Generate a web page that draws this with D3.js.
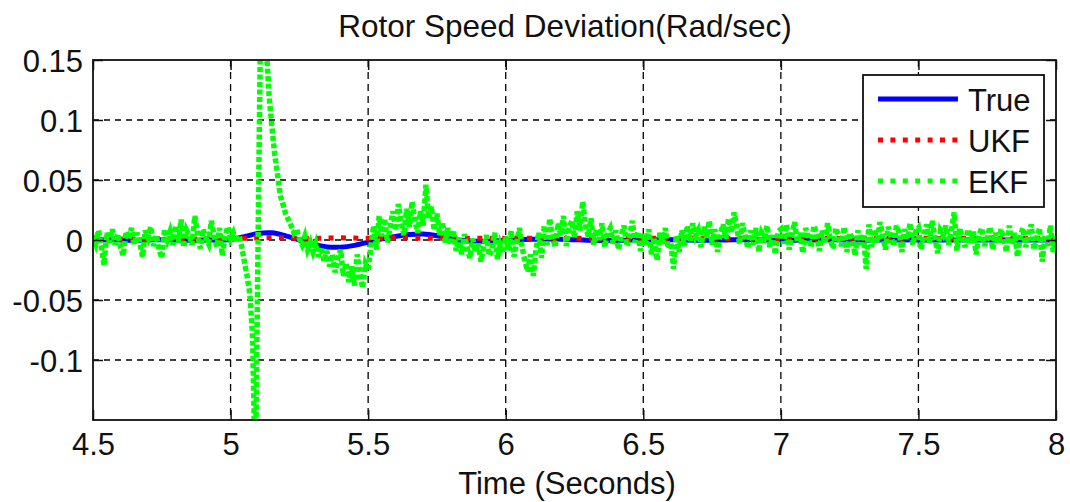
<!DOCTYPE html>
<html><head><meta charset="utf-8">
<script src="https://cdn.jsdelivr.net/npm/d3@7"></script>
<style>
body{margin:0;background:#fff}
svg{display:block}
text{font-family:"Liberation Sans",Arial,sans-serif;fill:#111}
</style>
</head><body>
<svg id="chart" width="1070" height="502"></svg>
<script>
const chartTitle = "Rotor Speed Deviation(Rad/sec)";
const xAxisLabel = "Time (Seconds)";
const xTickValues = [4.5, 5, 5.5, 6, 6.5, 7, 7.5, 8];
const yTickValues = [-0.1, -0.05, 0, 0.05, 0.1, 0.15];
const seriesNames = ["True", "UKF", "EKF"];
const seriesColors = ["#0000ff", "#ff0000", "#00ff00"];

// True and UKF sampled every 0.05 s from 4.5 s
const trueStart = 4.5, trueStep = 0.05;
const trueValues = [
 0, 0.0003, 0, -0.0003, 0, 0.0003, 0, -0.0003, 0, 0,
 0.0005, 0.0028, 0.0055, 0.006, 0.0035, 0, -0.0035, -0.0058, -0.006, -0.0045,
 -0.0018, 0.001, 0.003, 0.0045, 0.005, 0.0035, 0.001, -0.0006, -0.001, -0.0008,
 -0.0003, 0.0002, 0.0006, 0.0008, 0.0006, 0.0002, -0.0002, -0.0004, -0.0003, 0,
 0.0002, 0.0003, 0.0002, 0, -0.0002, -0.0002, 0, 0.0002, 0.0002, 0,
 -0.0001, -0.0002, 0, 0.0001, 0.0002, 0, -0.0001, -0.0001, 0, 0.0001,
 0.0001, 0, -0.0001, 0, 0.0001, 0, 0, -0.0001, 0, 0, 0
];
const ukfStart = 4.5, ukfStep = 0.05;
const ukfValues = [
 0.0008, 0.001, 0.0008, 0.0006, 0.0008, 0.001, 0.0009, 0.0007, 0.0009, 0.001,
 0.0012, 0.0015, 0.0018, 0.002, 0.0018, 0.0015, 0.0014, 0.0016, 0.0018, 0.0016,
 0.0015, 0.0016, 0.0018, 0.0017, 0.0015, 0.0014, 0.0013, 0.0014, 0.0015, 0.0014,
 0.0013, 0.0014, 0.0015, 0.0014, 0.0013, 0.0014, 0.0015, 0.0014, 0.0013, 0.0014,
 0.0015, 0.0014, 0.0013, 0.0014, 0.0015, 0.0014, 0.0013, 0.0014, 0.0015, 0.0014,
 0.0013, 0.0014, 0.0015, 0.0014, 0.0013, 0.0014, 0.0015, 0.0014, 0.0013, 0.0014,
 0.0015, 0.0014, 0.0013, 0.0014, 0.0015, 0.0014, 0.0013, 0.0014, 0.0015, 0.0014, 0.0014
];
// EKF sampled every 0.01 s from 4.5 s
const ekfStart = 4.5, ekfStep = 0.01;
const ekfValues = [
 0.004, -0.003, 0.008, -0.005, -0.021, 0.006, -0.002, 0.009, -0.004, 0.005,
 -0.006, -0.013, 0.007, 0.001, 0.010, -0.004, 0.006, -0.002, -0.014, 0.008,
 0.002, 0.011, -0.005, 0.004, -0.008, -0.015, 0.009, 0.000, 0.007, -0.004,
 0.012, -0.002, 0.017, -0.006, 0.008, 0.003, -0.004, 0.020, 0.005, -0.007,
 0.009, 0.002, -0.003, 0.016, 0.004, -0.006, 0.010, -0.013, 0.003, 0.011,
 0.001, 0.006, -0.002, 0.004, -0.005, -0.018, -0.030, -0.045, -0.080, -0.200,
 0.000, 0.200, 0.210, 0.160, 0.120, 0.095, 0.072, 0.056, 0.038, 0.030,
 0.022, 0.017, 0.012, 0.006, 0.009, 0.001, -0.004, 0.003, -0.008, -0.002,
 -0.010, -0.003, -0.014, -0.006, -0.018, -0.009, -0.022, -0.012, -0.027, -0.015,
 -0.008, -0.030, -0.019, -0.035, -0.022, -0.038, -0.012, -0.028, -0.040, -0.020,
 -0.025, -0.005, 0.012, -0.008, 0.020, 0.003, 0.018, -0.002, 0.010, 0.024,
 0.008, 0.030, 0.014, 0.004, 0.026, 0.011, 0.032, 0.016, 0.006, 0.024,
 0.012, 0.046, 0.018, 0.028, 0.008, 0.022, 0.004, 0.015, -0.002, 0.010,
 -0.004, 0.008, -0.009, 0.002, -0.012, 0.005, -0.007, -0.015, 0.001, -0.010,
 -0.003, -0.018, -0.006, 0.004, -0.013, -0.008, 0.006, -0.016, -0.004, -0.011,
 0.003, -0.009, 0.008, -0.014, -0.002, 0.010, -0.006, -0.018, -0.026, -0.012,
 -0.030, -0.008, 0.006, -0.015, 0.012, -0.004, 0.018, 0.002, -0.006, 0.014,
 0.004, 0.020, -0.005, 0.010, 0.016, 0.002, 0.024, 0.008, 0.032, 0.012,
 0.003, 0.018, -0.004, 0.009, 0.000, 0.014, -0.006, 0.006, 0.010, -0.003,
 0.008, -0.008, 0.004, 0.012, -0.005, 0.002, 0.016, -0.002, 0.007, -0.009,
 0.005, -0.004, 0.009, -0.012, 0.002, -0.017, 0.006, -0.003, 0.010, -0.007,
 -0.002, -0.024, 0.004, -0.010, 0.008, -0.005, 0.012, -0.001, 0.014, 0.003,
 0.008, -0.006, 0.011, 0.002, 0.016, -0.004, 0.009, -0.010, 0.005, 0.013,
 0.001, 0.018, 0.006, 0.023, 0.010, -0.003, 0.014, 0.004, -0.007, 0.008,
 -0.004, 0.010, -0.010, 0.006, 0.002, 0.012, -0.006, 0.004, -0.012, 0.007,
 0.009, -0.003, 0.013, -0.008, 0.004, 0.015, -0.002, 0.006, -0.011, 0.010,
 0.002, -0.006, 0.012, 0.004, -0.009, 0.008, -0.003, 0.014, 0.000, -0.007,
 0.010, 0.003, -0.005, 0.011, -0.010, 0.006, 0.001, -0.013, 0.008, -0.004,
 0.005, -0.024, 0.013, -0.006, 0.009, -0.002, 0.015, 0.004, -0.008, 0.011,
 0.003, -0.005, 0.012, 0.006, -0.010, 0.009, 0.001, 0.014, -0.004, 0.007,
 0.010, -0.008, 0.005, 0.013, -0.003, 0.016, 0.002, -0.011, 0.008, 0.004,
 0.012, -0.004, 0.008, 0.023, -0.009, 0.010, 0.001, -0.006, 0.009, -0.002,
 0.007, -0.012, 0.004, 0.010, -0.005, 0.002, 0.011, -0.008, 0.006, -0.003,
 0.009, 0.001, -0.010, 0.012, -0.004, 0.006, -0.014, 0.003, 0.010, -0.006,
 0.005, 0.013, -0.008, 0.002, 0.010, -0.018, 0.004, -0.005, 0.012, -0.010,
 0.003
];

const svg = d3.select("#chart");
const plot = {left: 93, right: 1056, top: 60, bottom: 420};
const x = d3.scaleLinear().domain([4.5, 8]).range([plot.left, plot.right]);
const y = d3.scaleLinear().domain([-0.15, 0.15]).range([plot.bottom, plot.top]);
const fmt = d => String(d);

const toPoints = (start, step, vals) => vals.map((v, i) => [start + i * step, v]);
const trueData = toPoints(trueStart, trueStep, trueValues);
const ukfData = toPoints(ukfStart, ukfStep, ukfValues);
const ekfData = toPoints(ekfStart, ekfStep, ekfValues);

svg.append("defs").append("clipPath").attr("id", "clip")
  .append("rect").attr("x", plot.left).attr("y", plot.top)
  .attr("width", plot.right - plot.left).attr("height", plot.bottom - plot.top);

// grid
const grid = svg.append("g").attr("stroke", "#000").attr("stroke-width", 1.3);
grid.selectAll(".gx").data(xTickValues.filter(t => t > 4.5 && t < 8)).join("line")
  .attr("stroke-dasharray", "7,5")
  .attr("x1", d => x(d)).attr("x2", d => x(d)).attr("y1", plot.top).attr("y2", plot.bottom);
grid.selectAll(".gy").data(yTickValues.filter(t => t < 0.15)).join("line")
  .attr("stroke-dasharray", "6,5")
  .attr("y1", d => y(d)).attr("y2", d => y(d)).attr("x1", plot.left).attr("x2", plot.right);

// data
const lineSmooth = d3.line().x(d => x(d[0])).y(d => y(d[1])).curve(d3.curveCatmullRom);
const lineRaw = d3.line().x(d => x(d[0])).y(d => y(d[1]));
const dataG = svg.append("g").attr("clip-path", "url(#clip)").attr("fill", "none");
dataG.append("path").datum(trueData).attr("d", lineSmooth)
  .attr("stroke", seriesColors[0]).attr("stroke-width", 5);
dataG.append("path").datum(ukfData).attr("d", lineSmooth)
  .attr("stroke", seriesColors[1]).attr("stroke-width", 5).attr("stroke-dasharray", "5,7.4");
dataG.append("path").datum(ekfData).attr("d", lineRaw)
  .attr("stroke", seriesColors[2]).attr("stroke-width", 5.5).attr("stroke-dasharray", "5,2.5");

// frame
svg.append("rect").attr("x", plot.left).attr("y", plot.top)
  .attr("width", plot.right - plot.left).attr("height", plot.bottom - plot.top)
  .attr("fill", "none").attr("stroke", "#111").attr("stroke-width", 1.8);

// axes with inward ticks on all sides
const tickLen = 10;
svg.append("g").attr("transform", `translate(0,${plot.bottom})`)
  .call(d3.axisBottom(x).tickValues(xTickValues).tickSizeInner(-tickLen).tickSizeOuter(0).tickFormat(fmt))
  .call(g => g.select(".domain").remove())
  .call(g => g.selectAll("line").attr("stroke", "#111").attr("stroke-width", 1.5))
  .call(g => g.selectAll("text").attr("y", 35).attr("dy", null).attr("font-size", 31)
      .attr("font-family", "'Liberation Sans', Arial, sans-serif").attr("fill", "#111"));
svg.append("g").attr("transform", `translate(0,${plot.top})`)
  .call(d3.axisTop(x).tickValues(xTickValues).tickSizeInner(-tickLen).tickSizeOuter(0).tickFormat(""))
  .call(g => g.select(".domain").remove())
  .call(g => g.selectAll("line").attr("stroke", "#111").attr("stroke-width", 1.5));
svg.append("g").attr("transform", `translate(${plot.left},0)`)
  .call(d3.axisLeft(y).tickValues(yTickValues).tickSizeInner(-tickLen).tickSizeOuter(0).tickFormat(fmt))
  .call(g => g.select(".domain").remove())
  .call(g => g.selectAll("line").attr("stroke", "#111").attr("stroke-width", 1.5))
  .call(g => g.selectAll("text").attr("x", -10).attr("dy", "0.36em").attr("font-size", 31)
      .attr("font-family", "'Liberation Sans', Arial, sans-serif").attr("fill", "#111"));
svg.append("g").attr("transform", `translate(${plot.right},0)`)
  .call(d3.axisRight(y).tickValues(yTickValues).tickSizeInner(-tickLen).tickSizeOuter(0).tickFormat(""))
  .call(g => g.select(".domain").remove())
  .call(g => g.selectAll("line").attr("stroke", "#111").attr("stroke-width", 1.5));

// title and label
svg.append("text").attr("x", 565).attr("y", 37).attr("text-anchor", "middle")
  .attr("font-size", 31.5).text(chartTitle);
svg.append("text").attr("x", 567).attr("y", 494).attr("text-anchor", "middle")
  .attr("font-size", 31).text(xAxisLabel);

// legend
const lg = svg.append("g");
lg.append("rect").attr("x", 863).attr("y", 75).attr("width", 181).attr("height", 132)
  .attr("fill", "#fff").attr("stroke", "#111").attr("stroke-width", 1.8);
const legendDash = [null, "5,7.4", "5,7.4"];
seriesNames.forEach((name, i) => {
  const ly = 99 + i * 41;
  lg.append("line").attr("x1", 878).attr("x2", 958).attr("y1", ly).attr("y2", ly)
    .attr("stroke", seriesColors[i]).attr("stroke-width", 5)
    .attr("stroke-dasharray", legendDash[i]);
  lg.append("text").attr("x", 968).attr("y", ly + 12).attr("font-size", 31).text(name);
});
</script>
</body></html>
